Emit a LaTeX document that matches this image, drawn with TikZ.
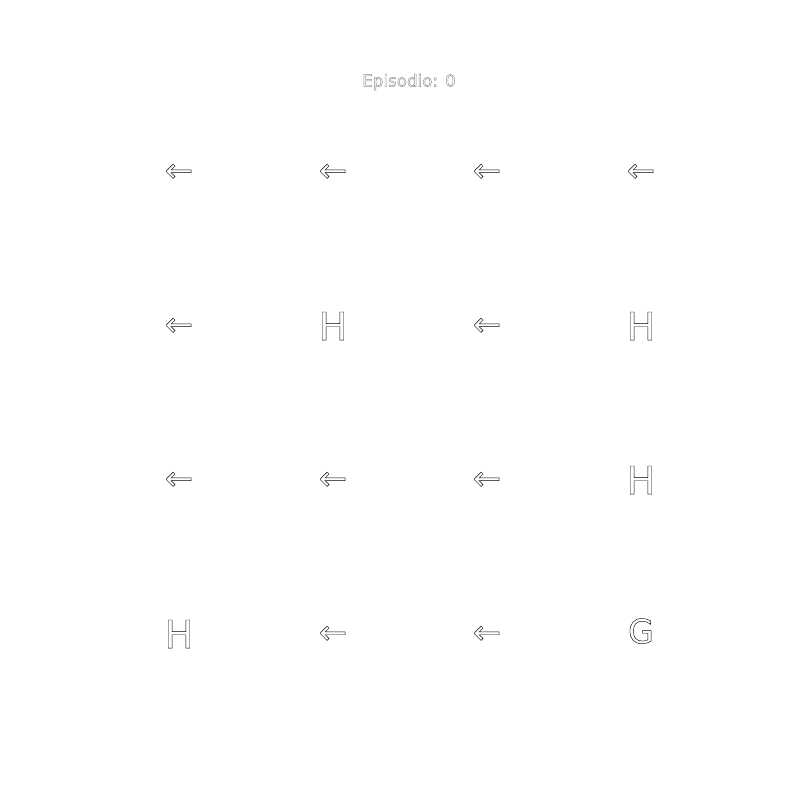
\documentclass[tikz,border=0pt]{standalone}
\usepackage{fontspec}
\setmainfont{DejaVu Sans}
\usepackage{tikz}

% outlined glyphs (stroke only)
\newcommand{\hollow}[1]{\special{pdf:literal direct 1 Tr 0.25 w}#1\special{pdf:literal direct 0 Tr}}

\tikzset{
  cellsym/.style={font=\fontsize{19}{19}\selectfont, inner sep=0pt, text=black},
  movesym/.style={cellsym, yshift=-1.7pt},
  holesym/.style={cellsym, font=\fontsize{22}{22}\selectfont, yshift=-1.2pt},
  goalsym/.style={cellsym, yshift=0.5pt},
  titletext/.style={font=\fontsize{9.5}{9.5}\selectfont, inner sep=0pt, text=black!45}
}

\begin{document}
\begin{tikzpicture}[x=0.02cm, y=-0.02cm]

% Frame (800 x 800 px)
\useasboundingbox (0,0) rectangle (800,800);

% Parameters
\def\xA{179}  % first column
\def\yA{170}  % first row
\def\d{154}   % cell spacing

% Title
\node[titletext] (title) at (409,82) {\hollow{Episodio: 0}};

% Row 1
\node[movesym] (c00) at (\xA,\yA) {\hollow{←}};
\node[movesym] (c01) at (\xA+\d,\yA) {\hollow{←}};
\node[movesym] (c02) at (\xA+2*\d,\yA) {\hollow{←}};
\node[movesym] (c03) at (\xA+3*\d,\yA) {\hollow{←}};

% Row 2
\node[movesym] (c10) at (\xA,\yA+\d) {\hollow{←}};
\node[holesym] (c11) at (\xA+\d,\yA+\d) {\hollow{H}};
\node[movesym] (c12) at (\xA+2*\d,\yA+\d) {\hollow{←}};
\node[holesym] (c13) at (\xA+3*\d,\yA+\d) {\hollow{H}};

% Row 3
\node[movesym] (c20) at (\xA,\yA+2*\d) {\hollow{←}};
\node[movesym] (c21) at (\xA+\d,\yA+2*\d) {\hollow{←}};
\node[movesym] (c22) at (\xA+2*\d,\yA+2*\d) {\hollow{←}};
\node[holesym] (c23) at (\xA+3*\d,\yA+2*\d) {\hollow{H}};

% Row 4
\node[holesym] (c30) at (\xA,\yA+3*\d) {\hollow{H}};
\node[movesym] (c31) at (\xA+\d,\yA+3*\d) {\hollow{←}};
\node[movesym] (c32) at (\xA+2*\d,\yA+3*\d) {\hollow{←}};
\node[goalsym] (c33) at (\xA+3*\d,\yA+3*\d) {\hollow{G}};

\end{tikzpicture}
\end{document}
